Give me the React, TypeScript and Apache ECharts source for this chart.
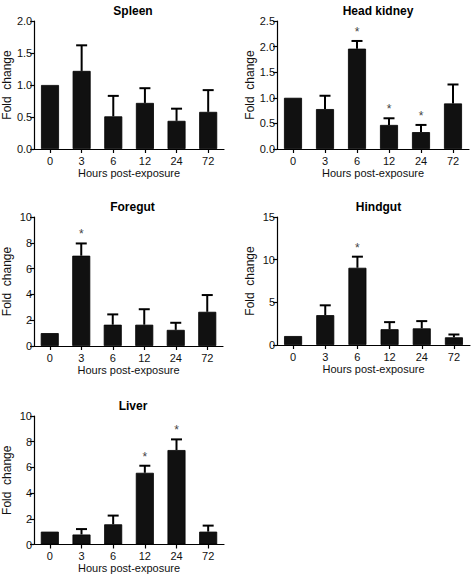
import React, { useEffect, useRef } from "react";
import * as echarts from "echarts";

const categories = ["0", "3", "6", "12", "24", "72"];

const panelTitles = ["Spleen", "Head kidney", "Foregut", "Hindgut", "Liver"];

const spleenMean = [1.0, 1.22, 0.51, 0.72, 0.44, 0.58];
const spleenErr = [0, 0.4, 0.32, 0.23, 0.19, 0.34];
const spleenSig = [false, false, false, false, false, false];

const kidneyMean = [1.0, 0.78, 1.96, 0.47, 0.33, 0.89];
const kidneyErr = [0, 0.26, 0.15, 0.13, 0.14, 0.37];
const kidneySig = [false, false, true, true, true, false];

const foregutMean = [1.0, 7.0, 1.65, 1.65, 1.25, 2.65];
const foregutErr = [0, 0.95, 0.8, 1.2, 0.55, 1.3];
const foregutSig = [false, true, false, false, false, false];

const hindgutMean = [1.05, 3.5, 9.05, 1.85, 1.95, 0.9];
const hindgutErr = [0, 1.15, 1.3, 0.83, 0.85, 0.33];
const hindgutSig = [false, false, true, false, false, false];

const liverMean = [1.0, 0.78, 1.57, 5.58, 7.35, 1.0];
const liverErr = [0, 0.42, 0.68, 0.55, 0.83, 0.47];
const liverSig = [false, false, false, true, true, false];

const yMax = [2.0, 2.5, 10, 15, 10];
const yInterval = [0.5, 0.5, 2, 5, 2];
const yDecimals = [1, 1, 0, 0, 0];

const xAxisName = "Hours post-exposure";
const yAxisName = "Fold  change";

const panels = [
  { mean: spleenMean, err: spleenErr, sig: spleenSig },
  { mean: kidneyMean, err: kidneyErr, sig: kidneySig },
  { mean: foregutMean, err: foregutErr, sig: foregutSig },
  { mean: hindgutMean, err: hindgutErr, sig: hindgutSig },
  { mean: liverMean, err: liverErr, sig: liverSig },
];

const gridBoxes = [
  { left: 32, top: 21, width: 192, height: 128 },
  { left: 277, top: 21, width: 192, height: 128 },
  { left: 32, top: 217, width: 191, height: 129 },
  { left: 277, top: 217, width: 193, height: 128 },
  { left: 32, top: 416, width: 192, height: 128.5 },
];

const FONT = "'Liberation Sans', Arial, sans-serif";

export default function App() {
  const ref = useRef<HTMLDivElement>(null);
  useEffect(() => {
    if (!ref.current) return;
    const chart = echarts.init(ref.current, null, { renderer: "svg" });

    const grids = gridBoxes.map((g) => ({ ...g, containLabel: false }));
    const titles = gridBoxes.map((g, i) => ({
      text: panelTitles[i],
      left: g.left + g.width / 2,
      top: g.top - 21,
      textAlign: "center",
      textStyle: { fontFamily: FONT, fontWeight: "bold", fontSize: 12, color: "#000" },
    }));
    const xAxes = gridBoxes.map((_, i) => ({
      type: "category",
      gridIndex: i,
      data: categories,
      boundaryGap: true,
      name: xAxisName,
      nameLocation: "middle",
      nameGap: 18,
      nameTextStyle: { fontFamily: FONT, fontSize: 11, color: "#111" },
      axisLine: { show: true, lineStyle: { color: "#000", width: 1.2 } },
      axisTick: { show: true, alignWithLabel: true, length: 4, lineStyle: { color: "#000", width: 1.2 } },
      axisLabel: { fontFamily: FONT, fontSize: 11, color: "#111", margin: 6 },
      splitLine: { show: false },
    }));
    const yAxes = gridBoxes.map((_, i) => ({
      type: "value",
      gridIndex: i,
      min: 0,
      max: yMax[i],
      interval: yInterval[i],
      name: yAxisName,
      nameLocation: "middle",
      nameGap: 21,
      nameRotate: 90,
      nameTextStyle: { fontFamily: FONT, fontSize: 12, color: "#111" },
      axisLine: { show: true, lineStyle: { color: "#000", width: 1.2 } },
      axisTick: { show: true, length: 4, lineStyle: { color: "#000", width: 1.2 } },
      axisLabel: {
        fontFamily: FONT,
        fontSize: 11,
        color: "#111",
        margin: 2,
        formatter: (v: number) => v.toFixed(yDecimals[i]),
      },
      splitLine: { show: false },
    }));

    const series: any[] = [];
    panels.forEach((p, i) => {
      series.push({
        type: "bar",
        xAxisIndex: i,
        yAxisIndex: i,
        data: p.mean,
        barWidth: 18,
        itemStyle: { color: "#111", borderColor: "#000", borderWidth: 0.8 },
        z: 2,
      });
      series.push({
        type: "custom",
        xAxisIndex: i,
        yAxisIndex: i,
        z: 3,
        data: p.mean.map((m, k) => [k, m, m + p.err[k], p.sig[k] ? 1 : 0, p.err[k]]),
        renderItem: (params: any, api: any) => {
          const idx = api.value(0);
          const m = api.value(1);
          const hi = api.value(2);
          const sig = api.value(3);
          const e = api.value(4);
          const p0 = api.coord([idx, m]);
          const p1 = api.coord([idx, hi]);
          const children: any[] = [];
          if (e > 0) {
            children.push({
              type: "line",
              shape: { x1: p0[0], y1: p0[1], x2: p1[0], y2: p1[1] },
              style: { stroke: "#000", lineWidth: 2 },
            });
            children.push({
              type: "line",
              shape: { x1: p1[0] - 5.5, y1: p1[1], x2: p1[0] + 5.5, y2: p1[1] },
              style: { stroke: "#000", lineWidth: 2 },
            });
          }
          if (sig) {
            children.push({
              type: "text",
              x: p1[0],
              y: p1[1] - 9,
              style: {
                text: "*",
                fontFamily: FONT,
                fontSize: 12,
                fill: "#444",
                align: "center",
                verticalAlign: "middle",
              },
            });
          }
          return { type: "group", children };
        },
      });
    });

    chart.setOption({
      animation: false,
      backgroundColor: "#fff",
      title: titles,
      grid: grids,
      xAxis: xAxes,
      yAxis: yAxes,
      series,
    });
    return () => chart.dispose();
  }, []);
  return (
    <div
      ref={ref}
      style={{ position: "fixed", left: 0, top: 0, width: 472, height: 576, background: "#fff" }}
    />
  );
}
